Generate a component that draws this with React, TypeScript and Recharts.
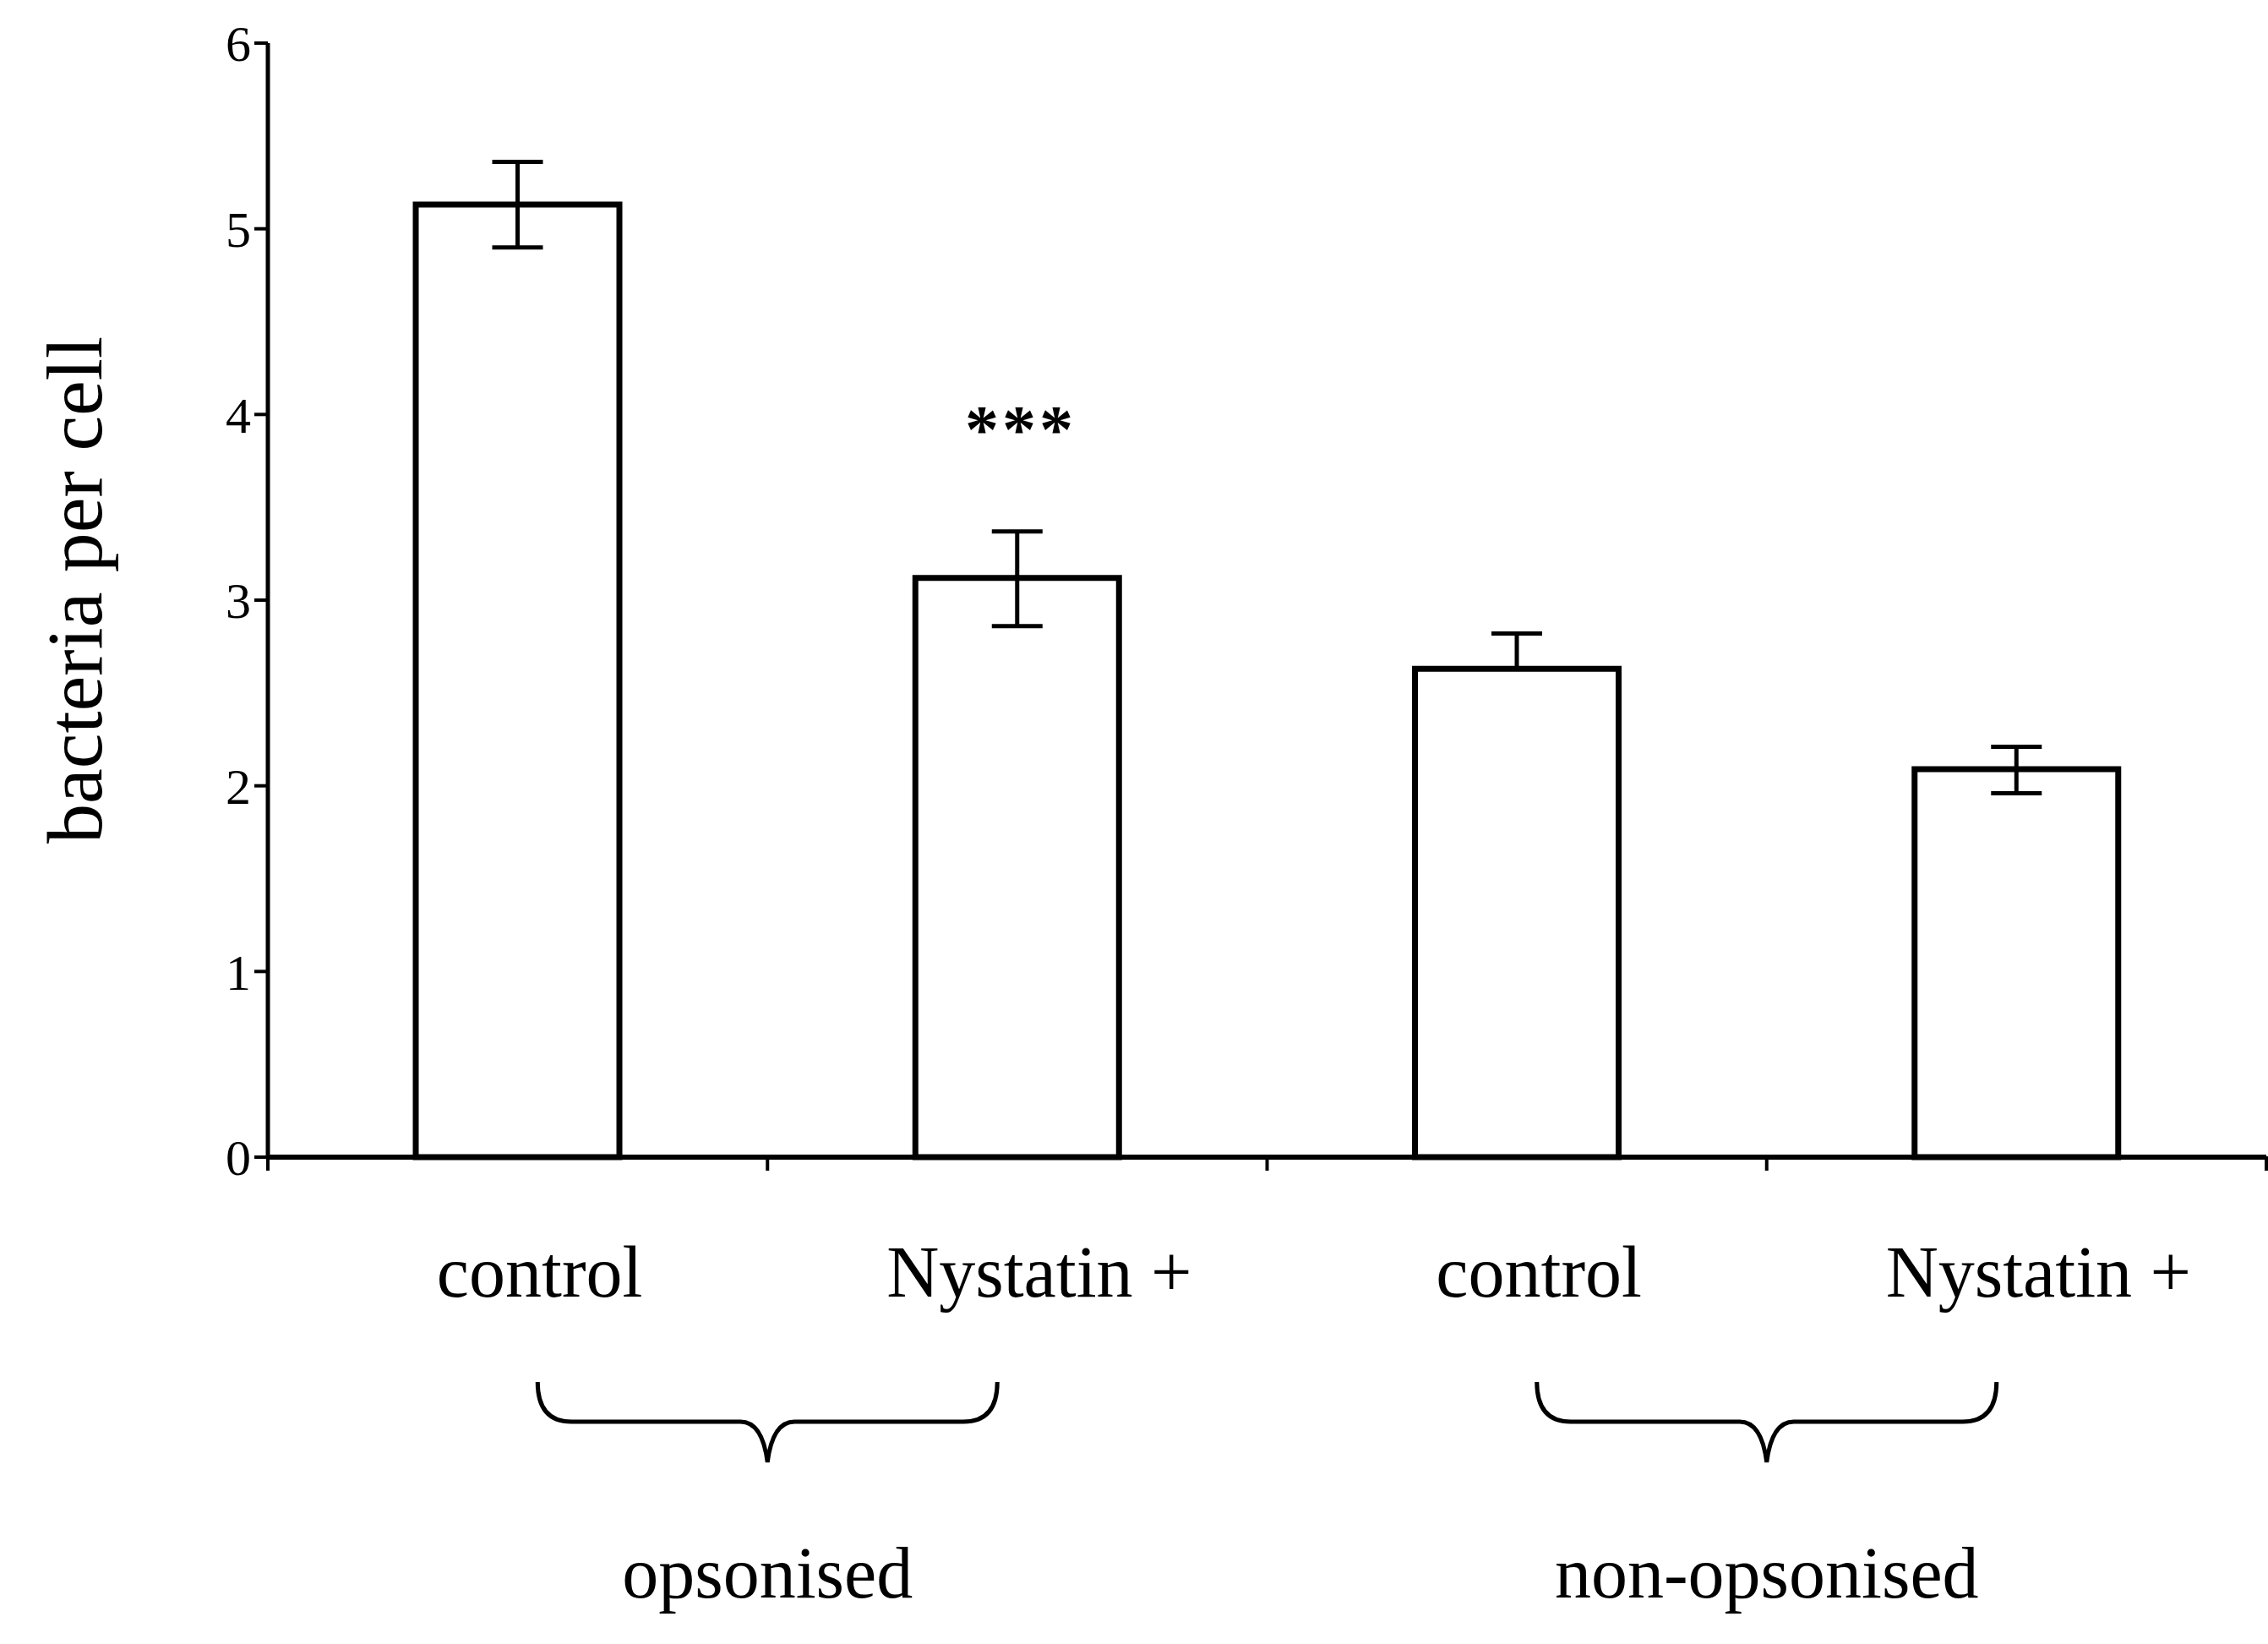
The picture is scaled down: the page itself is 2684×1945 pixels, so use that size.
import { BarChart, Bar, XAxis, YAxis, ErrorBar, ReferenceDot } from "recharts";

document.body.style.margin = "0";

// bacteria taken up per cell, 4 conditions in 2 groups
const categoryKeys = ["op-control", "op-nystatin", "non-control", "non-nystatin"];
const categoryLabels = ["control", "Nystatin +", "control", "Nystatin +"];
const groupLabels = ["opsonised", "opsonised", "non-opsonised", "non-opsonised"];
const bacteriaPerCell = [5.13, 3.12, 2.63, 2.09];
const errorLow = [0.23, 0.26, 0, 0.13];
const errorHigh = [0.23, 0.25, 0.19, 0.12];
const yTicks = [0, 1, 2, 3, 4, 5, 6];
const starKey = "op-nystatin";
const starValue = 3.95;

const FONT = "'Liberation Serif', 'Times New Roman', serif";

const rows = categoryKeys.map((key, i) => ({
  key,
  label: categoryLabels[i],
  group: groupLabels[i],
  value: bacteriaPerCell[i],
  err: [errorLow[i], errorHigh[i]],
}));

// category label, plus the little tick marks on the category boundaries
function CategoryTick(props: any) {
  const { x, y, payload, index, visibleTicksCount, width } = props;
  const i = categoryKeys.indexOf(payload.value);
  const half = payload.offset || width / visibleTicksCount / 2;
  const axisY = y - 1;
  return (
    <g>
      <line x1={x - half} y1={axisY} x2={x - half} y2={axisY + 17} stroke="#000" strokeWidth={4} />
      {index === visibleTicksCount - 1 && (
        <line x1={x + half} y1={axisY} x2={x + half} y2={axisY + 17} stroke="#000" strokeWidth={4} />
      )}
      <text x={x + 26} y={y + 165} textAnchor="middle" fontFamily={FONT} fontSize={86} fill="#000">
        {categoryLabels[i]}
      </text>
    </g>
  );
}

// curly brace under each group + the group name
function GroupTick(props: any) {
  const { x, y, payload } = props;
  const half = 272;
  const top = y + 45;
  const mid = y + 92;
  const tip = y + 140;
  const d = [
    `M ${x - half} ${top}`,
    `Q ${x - half} ${mid} ${x - half + 40} ${mid}`,
    `L ${x - 32} ${mid}`,
    `Q ${x - 6} ${mid} ${x} ${tip}`,
    `Q ${x + 6} ${mid} ${x + 32} ${mid}`,
    `L ${x + half - 40} ${mid}`,
    `Q ${x + half} ${mid} ${x + half} ${top}`,
  ].join(" ");
  return (
    <g>
      <path d={d} fill="none" stroke="#000" strokeWidth={5} />
      <text x={x} y={y + 300} textAnchor="middle" fontFamily={FONT} fontSize={86} fill="#000">
        {payload.value}
      </text>
    </g>
  );
}

function YLabel(props: any) {
  const vb = props.viewBox;
  const cx = vb.x + 88;
  const cy = vb.y + vb.height / 2 - 12;
  return (
    <text
      x={cx}
      y={cy}
      transform={`rotate(-90, ${cx}, ${cy})`}
      textAnchor="middle"
      dominantBaseline="central"
      fontFamily={FONT}
      fontSize={94}
      fill="#000"
    >
      bacteria per cell
    </text>
  );
}

function StarLabel(props: any) {
  const vb = props.viewBox;
  const cx = vb.x + vb.width / 2;
  const cy = vb.y + vb.height / 2;
  return (
    <text x={cx + 4} y={cy + 34} textAnchor="middle" fontFamily={FONT} fontSize={80} fontWeight="bold" letterSpacing={4} fill="#000">
      ***
    </text>
  );
}

export default function App() {
  return (
    <div style={{ width: 2684, height: 1945, background: "#fff" }}>
      <BarChart
        width={2684}
        height={1945}
        data={rows}
        margin={{ top: 51, right: 2, left: 0, bottom: 0 }}
        barCategoryGap="29.6%"
      >
        <XAxis
          xAxisId="cat"
          dataKey="key"
          height={221}
          axisLine={{ stroke: "#000", strokeWidth: 6 }}
          tickLine={false}
          tickSize={0}
          tickMargin={0}
          interval={0}
          tick={CategoryTick}
        />
        <XAxis
          xAxisId="grp"
          dataKey="group"
          allowDuplicatedCategory={false}
          height={355}
          axisLine={false}
          tickLine={false}
          tickSize={0}
          tickMargin={0}
          interval={0}
          tick={GroupTick}
        />
        <YAxis
          width={317}
          domain={[0, 6]}
          ticks={yTicks}
          interval={0}
          axisLine={{ stroke: "#000", strokeWidth: 5 }}
          tickLine={{ stroke: "#000", strokeWidth: 4 }}
          tickSize={16}
          tickMargin={4}
          tick={{ fill: "#000", fontSize: 60, fontFamily: FONT }}
          label={YLabel}
        />
        <Bar
          xAxisId="cat"
          dataKey="value"
          fill="#fff"
          stroke="#000"
          strokeWidth={7}
          isAnimationActive={false}
        >
          <ErrorBar dataKey="err" width={30} stroke="#000" strokeWidth={5} isAnimationActive={false} />
        </Bar>
        <ReferenceDot
          xAxisId="cat"
          x={starKey}
          y={starValue}
          r={1}
          fill="none"
          stroke="none"
          label={StarLabel}
        />
      </BarChart>
    </div>
  );
}
